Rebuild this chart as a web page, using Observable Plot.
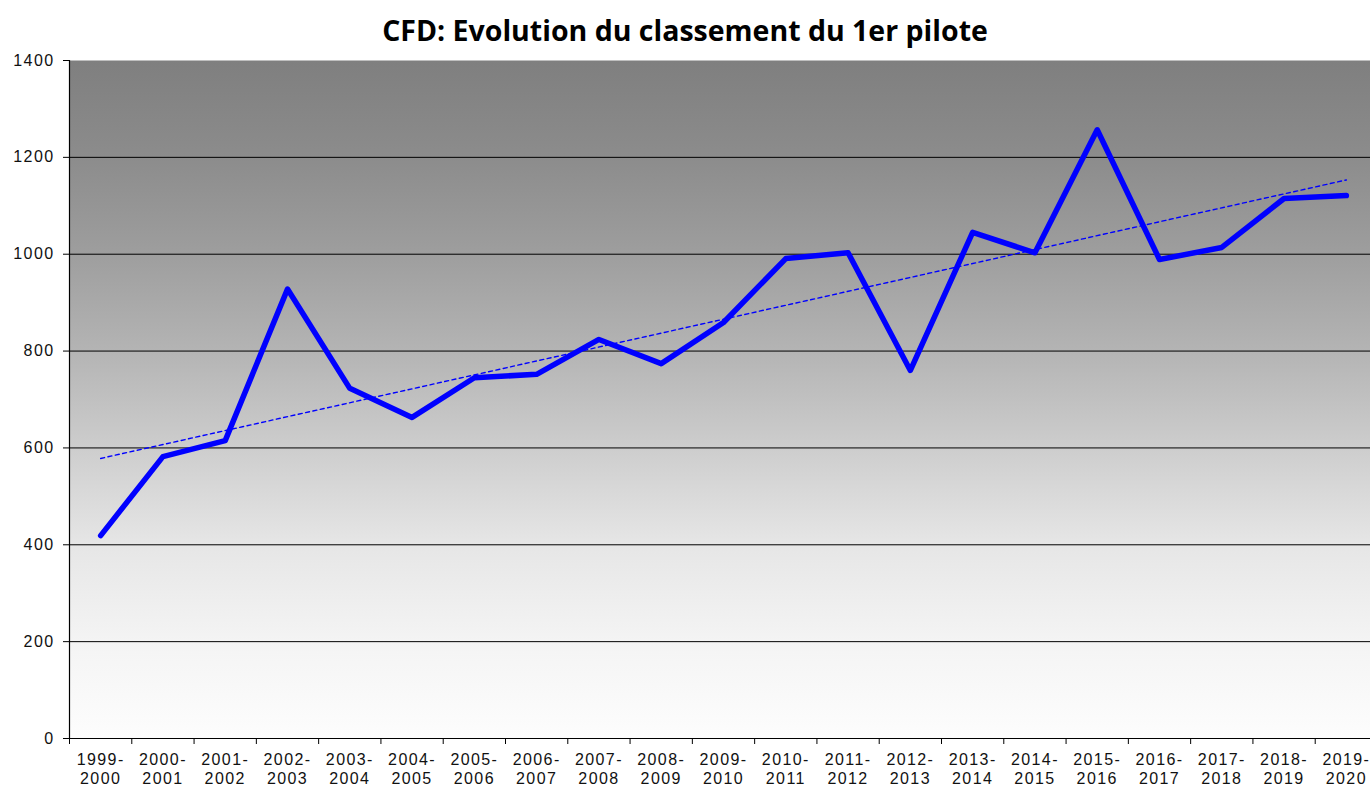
<!DOCTYPE html>
<html>
<head>
<meta charset="utf-8">
<script src="https://cdn.jsdelivr.net/npm/d3@7"></script>
<script src="https://cdn.jsdelivr.net/npm/@observablehq/plot@0.6"></script>
<style>
  html, body { margin: 0; padding: 0; background: #fff; overflow: hidden; }
  #title { height: 40px; padding-top: 10px; line-height: 40px; text-align: center; width: 1370px;
           font-family: "Open Sans", sans-serif; font-weight: bold; font-size: 28.5px; color: #000; white-space: nowrap; }
  #chart { width: 1378px; }
  #chart svg { display: block; max-width: none !important; }
  #chart svg text { letter-spacing: 1.4px; }
</style>
</head>
<body>
<div id="title">CFD: Evolution du classement du 1er pilote</div>
<div id="chart"></div>
<script>
const seasons = ["1999-2000","2000-2001","2001-2002","2002-2003","2003-2004","2004-2005","2005-2006",
  "2006-2007","2007-2008","2008-2009","2009-2010","2010-2011","2011-2012","2012-2013","2013-2014",
  "2014-2015","2015-2016","2016-2017","2017-2018","2018-2019","2019-2020"];
const points = [419, 582, 615, 928, 723, 663, 745, 752, 824, 774, 859, 991, 1003, 760, 1045,
  1003, 1257, 989, 1014, 1115, 1121];
const yTicks = [0, 200, 400, 600, 800, 1000, 1200, 1400];
const gridValues = [200, 400, 600, 800, 1000, 1200];

const idx = d3.range(seasons.length);
const rows = idx.map(i => ({i, season: seasons[i], value: points[i]}));
const boundaries = d3.range(seasons.length + 1).map(k => k - 0.5);
const FONT = "Liberation Sans";

const chart = Plot.plot({
  width: 1378,
  height: 736,
  marginTop: 10,
  marginBottom: 48,
  marginLeft: 69,
  marginRight: 1,
  style: {fontFamily: FONT, fontSize: "16px", color: "#111", background: "transparent", overflow: "visible", maxWidth: "none"},
  x: {type: "linear", domain: [-0.5, seasons.length - 0.5], axis: null},
  y: {domain: [0, 1400], axis: null},
  marks: [
    Plot.frame({fill: "url(#bgGrad)", stroke: "none"}),
    Plot.ruleY(gridValues, {stroke: "#000", strokeWidth: 1}),
    Plot.ruleX([-0.5], {stroke: "#000", strokeWidth: 1.2}),
    Plot.ruleY([0], {stroke: "#000", strokeWidth: 1.2}),
    Plot.axisY({ticks: yTicks, tickSize: 6, tickPadding: 9, stroke: "#000", fontSize: 16, fontFamily: FONT,
      tickFormat: d => String(d), label: null, fill: "#111"}),
    Plot.axisX({ticks: boundaries, tickSize: 6, stroke: "#000", tickFormat: () => "", label: null}),
    Plot.axisX({ticks: idx, tickSize: 0, tickPadding: 13, lineHeight: 1.2, fontSize: 16, fontFamily: FONT, fill: "#111",
      tickFormat: i => seasons[i].replace("-", "-\n"), label: null}),
    Plot.linearRegressionY(rows, {x: "i", y: "value", stroke: "#0000ff", strokeWidth: 1.4, strokeDasharray: "4,3.5", ci: 0}),
    Plot.line(rows, {x: "i", y: "value", stroke: "#0000ff", strokeWidth: 5.5, strokeLinejoin: "round", strokeLinecap: "round"})
  ]
});

const svg = d3.select(chart);
const defs = svg.insert("defs", ":first-child");
const grad = defs.append("linearGradient").attr("id", "bgGrad").attr("x1", 0).attr("y1", 0).attr("x2", 0).attr("y2", 1);
[["0%", "#7f7f7f"], ["14.3%", "#8c8c8c"], ["28.6%", "#9e9e9e"], ["42.9%", "#b4b4b4"], ["57.1%", "#cdcdcd"],
 ["71.4%", "#e6e6e6"], ["85.7%", "#f4f4f4"], ["100%", "#fdfdfd"]].forEach(([o, c]) =>
  grad.append("stop").attr("offset", o).attr("stop-color", c));

document.getElementById("chart").appendChild(chart);
</script>
</body>
</html>
